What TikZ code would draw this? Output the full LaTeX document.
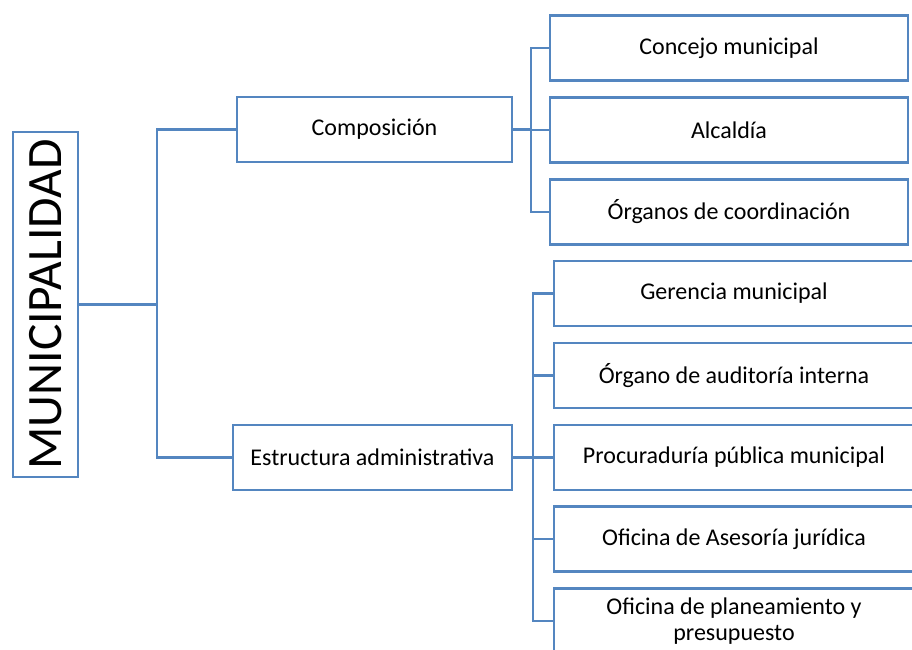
\documentclass[tikz,border=0pt]{standalone}
\usepackage{fontspec}
\setmainfont{Carlito}
\usepackage{tikz}
\usetikzlibrary{positioning}

\definecolor{boxblue}{HTML}{5486C0}

\begin{document}
\begin{tikzpicture}[x=1pt, y=-1pt,
    box/.style={draw=boxblue, line width=2.8pt, minimum width=#1, minimum height=65pt,
      inner sep=2pt, align=center, font=\fontsize{24}{26}\selectfont},
    box/.default=280pt,
    link/.style={draw=boxblue, line width=2.8pt}]

    \useasboundingbox (0,0) rectangle (912,649);
    \clip (0,0) rectangle (912,649);

    % Root
    \node[box=345pt, rotate=90, font=\fontsize{49.5}{52}\selectfont] (mun) at (45.5,304.5) {MUNICIPALIDAD};

    % Second level
    \node[box=275pt] (comp) at (374.5,129.5) {Composición};
    \node[box=279pt] (estr) at (372.5,457.5) {Estructura administrativa};

    % Composition
    \node[box=358pt] (conc) at (729,48)  {Concejo municipal};
    \node[box=358pt] (alca) at (729,130) {Alcaldía};
    \node[box=358pt] (orga) at (729,212) {Órganos de coordinación};

    % Administrative structure
    \node[box=360pt] (gere) at (734,293.5) {Gerencia municipal};
    \node[box=360pt] (audi) at (734,375.5) {Órgano de auditoría interna};
    \node[box=360pt] (proc) at (734,457.5) {Procuraduría pública municipal};
    \node[box=360pt] (ases) at (734,539)   {Oficina de Asesoría jurídica};
    \node[box=360pt] (plan) at (734,621)   {Oficina de planeamiento y\\presupuesto};

    % Junctions
    \coordinate (jmun)  at (157,304.5);
    \coordinate (jcomp) at (531,129.5);
    \coordinate (jestr) at (533,457.5);

    \draw[link] (mun.south) -- (jmun) |- (comp.west);
    \draw[link] (jmun) |- (estr.west);

    \draw[link] (comp.east) -- (jcomp);
    \foreach \n in {conc,alca,orga}
        \draw[link] (jcomp) |- (\n.west);

    \draw[link] (estr.east) -- (jestr);
    \foreach \n in {gere,audi,proc,ases,plan}
        \draw[link] (jestr) |- (\n.west);

\end{tikzpicture}
\end{document}
